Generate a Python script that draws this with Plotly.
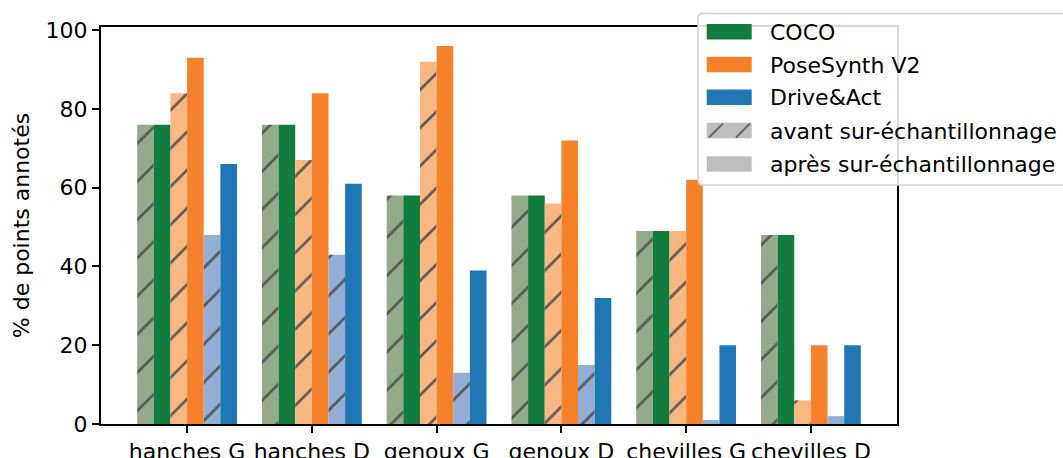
"""Bar chart: share of annotated keypoints per joint, before and after over-sampling."""
import plotly.graph_objects as go

# Data
categories = ['hanches G', 'hanches D', 'genoux G', 'genoux D', 'chevilles G', 'chevilles D']
coco_avant = [76, 76, 58, 58, 49, 48]
coco_apres = [76, 76, 58, 58, 49, 48]
posesynth_avant = [84, 67, 92, 56, 49, 6]
posesynth_apres = [93, 84, 96, 72, 62, 20]
driveact_avant = [48, 43, 13, 15, 1, 2]
driveact_apres = [66, 61, 39, 32, 20, 20]

legend_labels = ['COCO', 'PoseSynth V2', 'Drive&Act',
                 'avant sur-échantillonnage', 'après sur-échantillonnage']

GREEN, GREEN_LIGHT = '#127b3e', '#93ab88'
ORANGE, ORANGE_LIGHT = '#f5822a', '#f9b882'
BLUE, BLUE_LIGHT = '#1f77b4', '#93aed4'
GRAY = '#c0bcbb'
FONT = 'DejaVu Sans'

# Plot area in pixels (figure is 1063 x 458)
LEFT, RIGHT, TOP, BOTTOM = 101, 897, 27, 424


def px_x(px: float) -> float:
    """Convert a horizontal pixel position to paper coordinates."""
    return (px - LEFT) / (RIGHT - LEFT)


def px_y(py: float) -> float:
    """Convert a vertical pixel position to paper coordinates."""
    return (BOTTOM - py) / (BOTTOM - TOP)


series = [
    (coco_avant, GREEN_LIGHT, True),
    (coco_apres, GREEN, False),
    (posesynth_avant, ORANGE_LIGHT, True),
    (posesynth_apres, ORANGE, False),
    (driveact_avant, BLUE_LIGHT, True),
    (driveact_apres, BLUE, False),
]

bar_width = 0.8 / len(series)

fig = go.Figure()
for i, (values, colour, hatched) in enumerate(series):
    pattern = dict(shape='/', size=27, solidity=0.1, fgcolor='#505050', fgopacity=0.9) \
        if hatched else dict(shape='')
    fig.add_trace(go.Bar(x=categories, y=values, width=bar_width,
                         offset=-0.4 + i * bar_width,
                         marker=dict(color=colour, line=dict(width=0), pattern=pattern),
                         showlegend=False, hoverinfo='skip'))

# Hand-made legend, matplotlib style (wide patches, rounded frame)
shapes = []
annotations = []
x0, x1, y0, y1, r = px_x(698), px_x(1080), px_y(13.5), px_y(185), 5
rx, ry = r / (RIGHT - LEFT), r / (BOTTOM - TOP)
shapes.append(dict(
    type='path', xref='paper', yref='paper', layer='above',
    path=(f'M{x0 + rx},{y0} L{x1},{y0} L{x1},{y1} L{x0 + rx},{y1} '
          f'Q{x0},{y1} {x0},{y1 + ry} L{x0},{y0 - ry} Q{x0},{y0} {x0 + rx},{y0} Z'),
    fillcolor='rgba(255,255,255,0.85)', line=dict(color='#d4d4d4', width=1.5)))

legend_colours = [GREEN, ORANGE, BLUE, GRAY, GRAY]
row_centres = [31.7, 64.5, 97.3, 130.5, 164]
for label, colour, yc in zip(legend_labels, legend_colours, row_centres):
    shapes.append(dict(type='rect', xref='paper', yref='paper', layer='above',
                       x0=px_x(706.7), x1=px_x(751.7), y0=px_y(yc - 7.7), y1=px_y(yc + 7.7),
                       fillcolor=colour, line=dict(width=0)))
    annotations.append(dict(x=px_x(768), y=px_y(yc + 0.5), xref='paper', yref='paper',
                            text=label, showarrow=False, xanchor='left', yanchor='middle',
                            font=dict(family=FONT, size=22, color='black')))

# the two hatch strokes on the "avant" patch
for xa in (709, 736):
    shapes.append(dict(type='line', xref='paper', yref='paper', layer='above',
                       x0=px_x(xa), y0=px_y(137.5), x1=px_x(xa + 14), y1=px_y(123.5),
                       line=dict(color='#666666', width=2)))

fig.update_layout(
    width=1063, height=458,
    barmode='overlay',
    hovermode=False,
    plot_bgcolor='white', paper_bgcolor='white',
    margin=dict(l=LEFT, r=1063 - RIGHT, t=TOP, b=458 - BOTTOM, autoexpand=False),
    font=dict(family=FONT, size=22, color='black'),
    shapes=shapes,
    annotations=annotations,
    xaxis=dict(type='category', range=[-0.69, 5.69], tickangle=0,
               showline=True, mirror=True, linecolor='black', linewidth=2,
               ticks='outside', ticklen=7, tickwidth=2, tickcolor='black',
               showgrid=False, tickfont=dict(size=22)),
    yaxis=dict(range=[0, 100.8], tickvals=[0, 20, 40, 60, 80, 100],
               showline=True, mirror=True, linecolor='black', linewidth=2,
               ticks='outside', ticklen=7, tickwidth=2, tickcolor='black',
               showgrid=False, zeroline=False, tickfont=dict(size=22),
               title=dict(text='% de points annotés', font=dict(size=22), standoff=10)),
)

# the page's default body margin would shift the figure by 8px
fig.write_html('out.html', config={'displayModeBar': False},
               post_script="document.body.style.margin='0';")
